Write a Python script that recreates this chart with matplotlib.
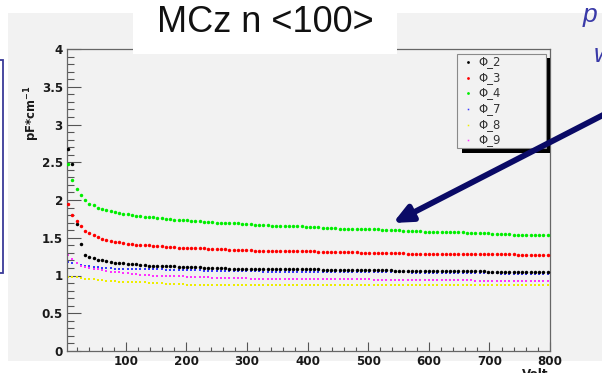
import matplotlib
matplotlib.use("Agg")
import matplotlib.pyplot as plt
from matplotlib.patches import Rectangle, FancyArrowPatch
from matplotlib.lines import Line2D
from matplotlib.ticker import MultipleLocator

W, H = 602, 373

# bias voltage of each measurement point (V)
bias_v = [5, 12, 19, 26, 33, 40, 47, 54, 61, 68,
          75, 82, 89, 96, 103, 110, 117, 124, 131, 138,
          145, 152, 159, 166, 173, 180, 187, 194, 201, 208,
          215, 222, 229, 236, 243, 250, 257, 264, 271, 278,
          285, 292, 299, 306, 313, 320, 327, 334, 341, 348,
          355, 362, 369, 376, 383, 390, 397, 404, 411, 418,
          425, 432, 439, 446, 453, 460, 467, 474, 481, 488,
          495, 502, 509, 516, 523, 530, 537, 544, 551, 558,
          565, 572, 579, 586, 593, 600, 607, 614, 621, 628,
          635, 642, 649, 656, 663, 670, 677, 684, 691, 698,
          705, 712, 719, 726, 733, 740, 747, 754, 761, 768,
          775, 782, 789, 796]

# capacitance per unit length (pF/cm) for each strip pitch
phi_2 = [2.68, 2.48, 1.68, 1.42, 1.27, 1.25, 1.23, 1.21, 1.20, 1.19,
         1.18, 1.17, 1.17, 1.16, 1.15, 1.15, 1.15, 1.14, 1.14, 1.13,
         1.13, 1.13, 1.12, 1.12, 1.12, 1.12, 1.11, 1.11, 1.11, 1.11,
         1.11, 1.11, 1.10, 1.10, 1.10, 1.10, 1.10, 1.10, 1.09, 1.09,
         1.09, 1.09, 1.09, 1.09, 1.09, 1.09, 1.09, 1.08, 1.08, 1.08,
         1.08, 1.08, 1.08, 1.08, 1.08, 1.08, 1.08, 1.08, 1.08, 1.08,
         1.07, 1.07, 1.07, 1.07, 1.07, 1.07, 1.07, 1.07, 1.07, 1.07,
         1.07, 1.07, 1.07, 1.07, 1.07, 1.07, 1.07, 1.06, 1.06, 1.06,
         1.06, 1.06, 1.06, 1.06, 1.06, 1.06, 1.06, 1.06, 1.06, 1.06,
         1.06, 1.06, 1.06, 1.06, 1.06, 1.06, 1.06, 1.06, 1.06, 1.05,
         1.05, 1.05, 1.05, 1.05, 1.05, 1.05, 1.05, 1.05, 1.05, 1.05,
         1.05, 1.05, 1.05, 1.05]

phi_3 = [1.95, 1.80, 1.72, 1.65, 1.59, 1.56, 1.53, 1.51, 1.49, 1.47,
         1.46, 1.45, 1.44, 1.43, 1.42, 1.42, 1.41, 1.41, 1.40, 1.40,
         1.39, 1.39, 1.39, 1.38, 1.38, 1.38, 1.37, 1.37, 1.37, 1.36,
         1.36, 1.36, 1.36, 1.35, 1.35, 1.35, 1.35, 1.35, 1.34, 1.34,
         1.34, 1.34, 1.34, 1.34, 1.33, 1.33, 1.33, 1.33, 1.33, 1.33,
         1.33, 1.32, 1.32, 1.32, 1.32, 1.32, 1.32, 1.32, 1.32, 1.31,
         1.31, 1.31, 1.31, 1.31, 1.31, 1.31, 1.31, 1.31, 1.31, 1.30,
         1.30, 1.30, 1.30, 1.30, 1.30, 1.30, 1.30, 1.30, 1.30, 1.30,
         1.29, 1.29, 1.29, 1.29, 1.29, 1.29, 1.29, 1.29, 1.29, 1.29,
         1.29, 1.29, 1.28, 1.28, 1.28, 1.28, 1.28, 1.28, 1.28, 1.28,
         1.28, 1.28, 1.28, 1.28, 1.28, 1.28, 1.27, 1.27, 1.27, 1.27,
         1.27, 1.27, 1.27, 1.27]

phi_4 = [2.48, 2.26, 2.15, 2.07, 2.00, 1.95, 1.93, 1.90, 1.88, 1.87,
         1.85, 1.84, 1.83, 1.82, 1.81, 1.80, 1.79, 1.79, 1.78, 1.77,
         1.77, 1.76, 1.76, 1.75, 1.75, 1.74, 1.74, 1.73, 1.73, 1.72,
         1.72, 1.72, 1.71, 1.71, 1.71, 1.70, 1.70, 1.70, 1.69, 1.69,
         1.69, 1.68, 1.68, 1.68, 1.67, 1.67, 1.67, 1.67, 1.66, 1.66,
         1.66, 1.66, 1.65, 1.65, 1.65, 1.65, 1.64, 1.64, 1.64, 1.64,
         1.63, 1.63, 1.63, 1.63, 1.62, 1.62, 1.62, 1.62, 1.62, 1.61,
         1.61, 1.61, 1.61, 1.61, 1.60, 1.60, 1.60, 1.60, 1.60, 1.59,
         1.59, 1.59, 1.59, 1.59, 1.58, 1.58, 1.58, 1.58, 1.58, 1.57,
         1.57, 1.57, 1.57, 1.57, 1.56, 1.56, 1.56, 1.56, 1.56, 1.56,
         1.55, 1.55, 1.55, 1.55, 1.55, 1.54, 1.54, 1.54, 1.54, 1.54,
         1.54, 1.53, 1.53, 1.53]

phi_7 = [1.18, 1.17, 1.16, 1.14, 1.13, 1.12, 1.11, 1.11, 1.10, 1.10,
         1.10, 1.09, 1.09, 1.09, 1.09, 1.09, 1.08, 1.08, 1.08, 1.08,
         1.08, 1.08, 1.08, 1.07, 1.07, 1.07, 1.07, 1.07, 1.07, 1.07,
         1.07, 1.07, 1.06, 1.06, 1.06, 1.06, 1.06, 1.06, 1.06, 1.06,
         1.06, 1.06, 1.06, 1.06, 1.06, 1.06, 1.05, 1.05, 1.05, 1.05,
         1.05, 1.05, 1.05, 1.05, 1.05, 1.05, 1.05, 1.05, 1.05, 1.05,
         1.05, 1.05, 1.04, 1.04, 1.04, 1.04, 1.04, 1.04, 1.04, 1.04,
         1.04, 1.04, 1.04, 1.04, 1.04, 1.04, 1.04, 1.04, 1.04, 1.04,
         1.04, 1.03, 1.03, 1.03, 1.03, 1.03, 1.03, 1.03, 1.03, 1.03,
         1.03, 1.03, 1.03, 1.03, 1.03, 1.03, 1.03, 1.03, 1.03, 1.03,
         1.03, 1.03, 1.02, 1.02, 1.02, 1.02, 1.02, 1.02, 1.02, 1.02,
         1.02, 1.02, 1.02, 1.02]

phi_8 = [0.98, 0.98, 0.98, 0.97, 0.96, 0.95, 0.95, 0.94, 0.94, 0.93,
         0.93, 0.93, 0.92, 0.92, 0.92, 0.91, 0.91, 0.91, 0.91, 0.90,
         0.90, 0.90, 0.90, 0.89, 0.89, 0.89, 0.89, 0.89, 0.88, 0.88,
         0.88, 0.88, 0.88, 0.88, 0.88, 0.88, 0.88, 0.88, 0.88, 0.88,
         0.88, 0.88, 0.88, 0.88, 0.88, 0.88, 0.88, 0.88, 0.88, 0.88,
         0.88, 0.88, 0.88, 0.88, 0.88, 0.87, 0.87, 0.87, 0.87, 0.87,
         0.87, 0.87, 0.87, 0.87, 0.87, 0.87, 0.87, 0.87, 0.87, 0.87,
         0.87, 0.87, 0.87, 0.87, 0.87, 0.87, 0.87, 0.87, 0.87, 0.87,
         0.87, 0.87, 0.87, 0.87, 0.87, 0.87, 0.87, 0.87, 0.87, 0.87,
         0.87, 0.87, 0.87, 0.87, 0.87, 0.87, 0.87, 0.87, 0.87, 0.87,
         0.87, 0.87, 0.87, 0.87, 0.87, 0.87, 0.87, 0.87, 0.87, 0.87,
         0.87, 0.87, 0.87, 0.87]

phi_9 = [1.27, 1.22, 1.16, 1.13, 1.11, 1.10, 1.09, 1.08, 1.07, 1.06,
         1.05, 1.04, 1.04, 1.03, 1.03, 1.02, 1.02, 1.01, 1.01, 1.01,
         1.00, 1.00, 1.00, 1.00, 0.99, 0.99, 0.99, 0.99, 0.98, 0.98,
         0.98, 0.98, 0.98, 0.98, 0.97, 0.97, 0.97, 0.97, 0.97, 0.97,
         0.97, 0.97, 0.97, 0.96, 0.96, 0.96, 0.96, 0.96, 0.96, 0.96,
         0.96, 0.96, 0.96, 0.96, 0.96, 0.95, 0.95, 0.95, 0.95, 0.95,
         0.95, 0.95, 0.95, 0.95, 0.95, 0.95, 0.95, 0.95, 0.95, 0.95,
         0.95, 0.95, 0.94, 0.94, 0.94, 0.94, 0.94, 0.94, 0.94, 0.94,
         0.94, 0.94, 0.94, 0.94, 0.94, 0.94, 0.94, 0.94, 0.94, 0.94,
         0.94, 0.94, 0.94, 0.94, 0.94, 0.94, 0.93, 0.93, 0.93, 0.93,
         0.93, 0.93, 0.93, 0.93, 0.93, 0.93, 0.93, 0.93, 0.93, 0.93,
         0.93, 0.93, 0.93, 0.93]

series_labels = ["\u03a6_2", "\u03a6_3", "\u03a6_4", "\u03a6_7", "\u03a6_8", "\u03a6_9"]
series_values = [phi_2, phi_3, phi_4, phi_7, phi_8, phi_9]
series_colors = ["#000000", "#ff0000", "#00ee00", "#3a3aff", "#eeee00", "#ff33ff"]
series_big = [True, True, True, False, False, False]

title_text = "MCz n <100>"
y_title = r"pF*cm$^{\mathbf{-1}}$"
x_title = "Volt"


def fx(px):
    return px / W


def fy(py):
    return 1.0 - py / H


fig = plt.figure(figsize=(W / 100, H / 100), dpi=100)
fig.patch.set_facecolor("white")

# grey canvas
fig.add_artist(Rectangle((fx(8), fy(361)), fx(W + 2) - fx(8), fy(12.7) - fy(361),
                         transform=fig.transFigure, facecolor="#f2f2f2",
                         edgecolor="none", zorder=0))
# left framed box
fig.add_artist(Rectangle((fx(-5), fy(273)), fx(3) - fx(-5), fy(60) - fy(273),
                         transform=fig.transFigure, facecolor="white",
                         edgecolor="#3a3a99", linewidth=1.3, zorder=1))

ax = fig.add_axes([fx(67), fy(351), fx(550) - fx(67), fy(49) - fy(351)])
ax.set_facecolor("#f2f2f2")
ax.set_xlim(3, 800)
ax.set_ylim(0, 4)

for vals, col, big in zip(series_values, series_colors, series_big):
    if big:
        ax.plot(bias_v, vals, linestyle="none", marker="o", markersize=2.5,
                markeredgewidth=0, color=col, zorder=3)
    else:
        ax.plot(bias_v, vals, linestyle="none", marker="s", markersize=1.5,
                markeredgewidth=0, color=col, zorder=2)

ax.xaxis.set_minor_locator(MultipleLocator(20))
ax.yaxis.set_minor_locator(MultipleLocator(0.1))

tick_col = "#555555"
ax.tick_params(axis="x", which="major", direction="in", length=6.5, width=0.8,
               color=tick_col, pad=3, labelsize=8.6, labelcolor="#1a1a1a")
ax.tick_params(axis="x", which="minor", direction="in", length=2.9, width=0.8,
               color=tick_col)
ax.tick_params(axis="y", which="major", direction="in", length=10, width=0.8,
               color=tick_col, pad=3, labelsize=8.6, labelcolor="#1a1a1a")
ax.tick_params(axis="y", which="minor", direction="in", length=5, width=0.8,
               color=tick_col)

ax.set_xticks([100, 200, 300, 400, 500, 600, 700, 800])
ax.set_xticklabels(["100", "200", "300", "400", "500", "600", "700", "800"],
                   fontweight="bold", family="DejaVu Sans")
ax.set_yticks([0, 0.5, 1, 1.5, 2, 2.5, 3, 3.5, 4])
ax.set_yticklabels(["0", "0.5", "1", "1.5", "2", "2.5", "3", "3.5", "4"],
                   fontweight="bold", family="DejaVu Sans")

for side in ["left", "bottom", "top", "right"]:
    ax.spines[side].set_color("#666666")
    ax.spines[side].set_linewidth(0.9)

fig.text(fx(32), fy(113), y_title, rotation=90, ha="center", va="center",
         fontsize=8.4, fontweight="bold", color="#1a1a1a", family="DejaVu Sans")
fig.text(fx(548), fy(367.5), x_title, ha="right", va="top", fontsize=8.6,
         fontweight="bold", color="#1a1a1a", family="DejaVu Sans")

# legend box with a drop shadow
fig.add_artist(Rectangle((fx(462), fy(153)), fx(550) - fx(462), fy(58) - fy(153),
                         transform=fig.transFigure, facecolor="black",
                         edgecolor="none", zorder=5))
fig.add_artist(Rectangle((fx(457), fy(148)), fx(546) - fx(457), fy(54) - fy(148),
                         transform=fig.transFigure, facecolor="#f2f2f2",
                         edgecolor="#8a8a8a", linewidth=0.8, zorder=6))
row_y = [62, 78, 93, 109, 125, 140]
for lab, col, big, ry in zip(series_labels, series_colors, series_big, row_y):
    fig.add_artist(Line2D([fx(468)], [fy(ry)], transform=fig.transFigure,
                          linestyle="none", marker="o" if big else "s",
                          markersize=2.0 if big else 1.1, markeredgewidth=0,
                          color=col, zorder=7))
    fig.text(fx(478), fy(ry), lab, ha="left", va="center", fontsize=8.4,
             color="#333333", family="DejaVu Sans", zorder=7)

# title box
fig.add_artist(Rectangle((fx(133), fy(54)), fx(397) - fx(133), fy(-2) - fy(54),
                         transform=fig.transFigure, facecolor="white",
                         edgecolor="none", zorder=8))
fig.text(fx(265), fy(23), title_text, ha="center", va="center", fontsize=26,
         family="Liberation Sans", color="#111111", zorder=9)

# side annotation text
fig.text(fx(583), fy(22), "p", ha="left", va="baseline", fontsize=19,
         style="italic", family="Liberation Sans", color="#3a3aa8", zorder=9)
fig.text(fx(594), fy(62), "w", ha="left", va="baseline", fontsize=19,
         style="italic", family="Liberation Sans", color="#3a3aa8", zorder=9)

# pointer arrow
arrow = FancyArrowPatch((fx(640), fy(96)), (fx(393), fy(223)),
                        transform=fig.transFigure, arrowstyle="-|>",
                        mutation_scale=1, shrinkA=0, shrinkB=0,
                        color="#0a0a66", linewidth=4.2, zorder=10)
arrow.set_arrowstyle("-|>", head_length=11, head_width=5)
fig.add_artist(arrow)

fig.savefig("out.png", dpi=100, facecolor="white")
